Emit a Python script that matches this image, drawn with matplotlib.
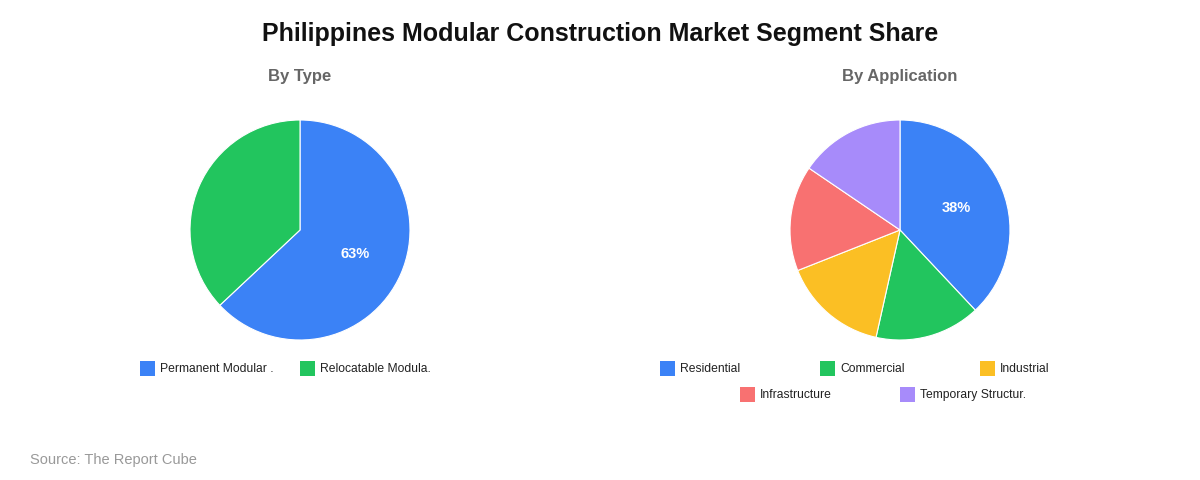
import numpy as np
import matplotlib.pyplot as plt
from matplotlib.patches import Rectangle

plt.rcParams['font.family'] = ['Liberation Sans', 'DejaVu Sans']

W, H = 1200, 480

type_labels = ['Permanent Modular .', 'Relocatable Modula.']
type_values = [63, 37]
type_colors = ['#3b82f6', '#22c55e']

app_labels = ['Residential', 'Commercial', 'Industrial', 'Infrastructure', 'Temporary Structur.']
app_values = [38, 15.5, 15.5, 15.5, 15.5]
app_colors = ['#3b82f6', '#22c55e', '#fbbf24', '#f87171', '#a78bfa']

fig = plt.figure(figsize=(W / 100, H / 100), dpi=100)
fig.patch.set_facecolor('white')

def fx(px): return px / W
def fy(py): return 1 - py / H

def draw_pie(cx, cy, r, values, colors, subtitle):
    ax = fig.add_axes([fx(cx - r), fy(cy + r), 2 * r / W, 2 * r / H])
    wedges, _ = ax.pie(values, colors=colors, startangle=90, counterclock=False,
                       wedgeprops=dict(edgecolor='white', linewidth=0.8))
    # label only the biggest slice
    total = sum(values)
    i = values.index(max(values))
    w = wedges[i]
    mid = np.deg2rad((w.theta1 + w.theta2) / 2)
    ax.text(0.55 * np.cos(mid), 0.55 * np.sin(mid), f"{values[i] / total * 100:.0f}%",
            ha='center', va='center', color='white', fontsize=10.5, fontweight='bold')
    ax.set_xlim(-1, 1); ax.set_ylim(-1, 1); ax.axis('off')
    fig.text(fx(cx), fy(77), subtitle, ha='center', va='center',
             fontsize=12, fontweight='bold', color='#666666')

def draw_legend(items, colors, xs, ys):
    for lbl, c, x, y in zip(items, colors, xs, ys):
        fig.patches.append(Rectangle((fx(x), fy(y + 7)), 15 / W, 15 / H,
                                     transform=fig.transFigure, facecolor=c, edgecolor='none'))
        fig.text(fx(x + 20), fy(y), lbl, ha='left', va='center', fontsize=8.7, color='#222222')

draw_pie(300, 230, 110, type_values, type_colors, 'By Type')
draw_pie(900, 230, 110, app_values, app_colors, 'By Application')

draw_legend(type_labels, type_colors, [140, 300], [369, 369])
draw_legend(app_labels, app_colors, [660, 820, 980, 740, 900], [369, 369, 369, 395, 395])

fig.text(0.5, fy(34), 'Philippines Modular Construction Market Segment Share',
         ha='center', va='center', fontsize=18, fontweight='bold', color='#111111')
fig.text(fx(30), fy(460), 'Source: The Report Cube', ha='left', va='center',
         fontsize=10.5, color='#999999')

fig.savefig('out.png', dpi=100, facecolor='white')
